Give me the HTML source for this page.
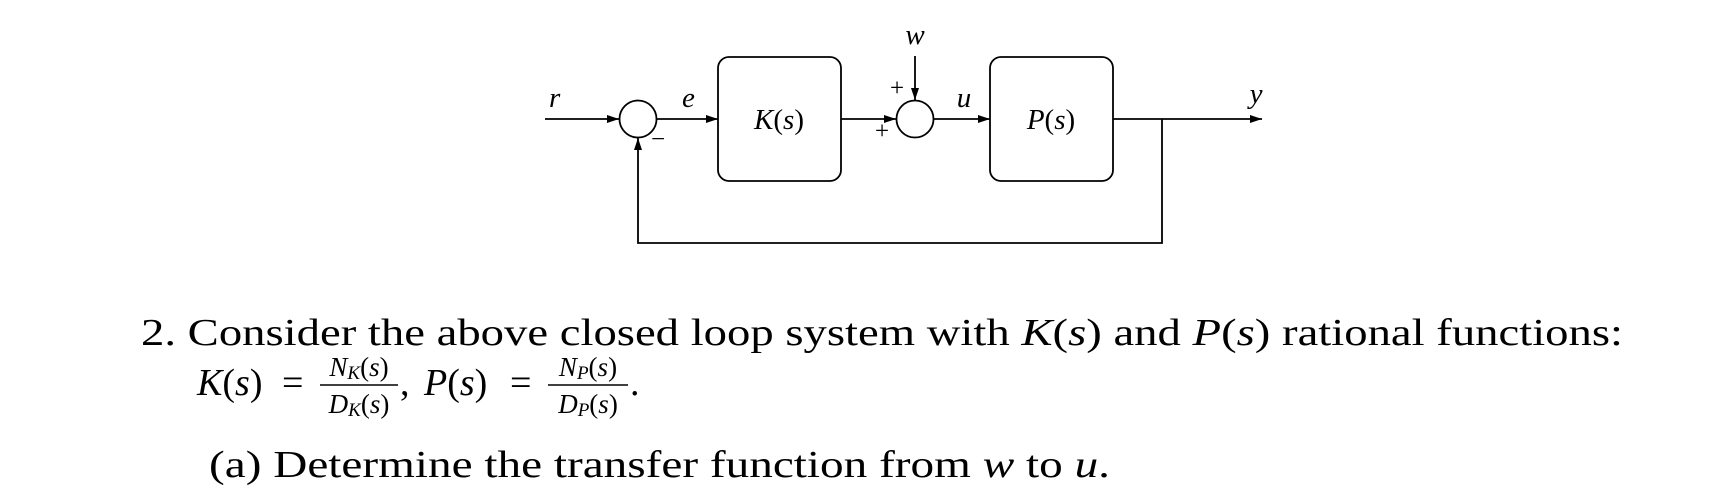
<!DOCTYPE html>
<html><head><meta charset="utf-8"><style>
html,body{margin:0;padding:0;background:#fff;}
svg{display:block;}
text{font-family:"Liberation Serif",serif;fill:#000;}
.i{font-style:italic;}
</style></head><body>
<svg width="1716" height="502" viewBox="0 0 1716 502" xmlns="http://www.w3.org/2000/svg">
<defs><marker id="a" markerWidth="12" markerHeight="8" refX="12" refY="4" orient="auto" markerUnits="userSpaceOnUse"><path d="M0,0 L12,4 L0,8 Z" fill="#000"/></marker></defs>
<g stroke="#000" stroke-width="1.8" fill="none">
<line x1="545" y1="119" x2="619" y2="119" marker-end="url(#a)"/>
<circle cx="638" cy="119" r="18.5"/>
<line x1="656.5" y1="119" x2="718" y2="119" marker-end="url(#a)"/>
<rect x="718" y="57" width="123" height="124" rx="11"/>
<line x1="841" y1="119" x2="896" y2="119" marker-end="url(#a)"/>
<line x1="915" y1="56" x2="915" y2="100" marker-end="url(#a)"/>
<circle cx="915" cy="119" r="18.5"/>
<line x1="933.5" y1="119" x2="990" y2="119" marker-end="url(#a)"/>
<rect x="990" y="57" width="123" height="124" rx="11"/>
<line x1="1113" y1="119" x2="1262" y2="119" marker-end="url(#a)"/>
<polyline points="1162,119 1162,243 638,243 638,138" marker-end="url(#a)"/>
</g>
<text class="i" x="549" y="107" font-size="29">r</text>
<text class="i" x="682" y="107" font-size="29">e</text>
<text x="779" y="129" font-size="29" text-anchor="middle"><tspan class="i">K</tspan>(<tspan class="i">s</tspan>)</text>
<text class="i" x="915" y="44" font-size="29" text-anchor="middle">w</text>
<text x="897" y="96" font-size="25" text-anchor="middle">+</text>
<text x="882" y="139" font-size="25" text-anchor="middle">+</text>
<text x="658" y="147" font-size="25" text-anchor="middle">−</text>
<text class="i" x="964" y="107" font-size="29" text-anchor="middle">u</text>
<text x="1051" y="129" font-size="29" text-anchor="middle"><tspan class="i">P</tspan>(<tspan class="i">s</tspan>)</text>
<text class="i" x="1256" y="103" font-size="29" text-anchor="middle">y</text>

<text x="141" y="345" font-size="38" textLength="1482" lengthAdjust="spacingAndGlyphs">2. Consider the above closed loop system with <tspan class="i">K</tspan>(<tspan class="i">s</tspan>) and <tspan class="i">P</tspan>(<tspan class="i">s</tspan>) rational functions:</text>
<text x="197" y="395" font-size="38"><tspan class="i">K</tspan>(<tspan class="i">s</tspan>)</text>
<text x="282" y="395" font-size="38">=</text>
<text x="359" y="376" font-size="27" text-anchor="middle"><tspan class="i">N<tspan font-size="19" dy="3">K</tspan></tspan><tspan dy="-3">(</tspan><tspan class="i">s</tspan>)</text>
<line x1="320" y1="385" x2="398" y2="385" stroke="#000" stroke-width="1.4"/>
<text x="359" y="413" font-size="27" text-anchor="middle"><tspan class="i">D<tspan font-size="19" dy="3">K</tspan></tspan><tspan dy="-3">(</tspan><tspan class="i">s</tspan>)</text>
<text x="400" y="395" font-size="38">,</text>
<text x="424" y="395" font-size="38"><tspan class="i">P</tspan>(<tspan class="i">s</tspan>)</text>
<text x="510" y="395" font-size="38">=</text>
<text x="588" y="376" font-size="27" text-anchor="middle"><tspan class="i">N<tspan font-size="19" dy="3">P</tspan></tspan><tspan dy="-3">(</tspan><tspan class="i">s</tspan>)</text>
<line x1="548" y1="385" x2="628" y2="385" stroke="#000" stroke-width="1.4"/>
<text x="588" y="413" font-size="27" text-anchor="middle"><tspan class="i">D<tspan font-size="19" dy="3">P</tspan></tspan><tspan dy="-3">(</tspan><tspan class="i">s</tspan>)</text>
<text x="630" y="395" font-size="38">.</text>
<text x="209" y="477" font-size="38" textLength="901" lengthAdjust="spacingAndGlyphs">(a)  Determine the transfer function from <tspan class="i">w</tspan> to <tspan class="i">u</tspan>.</text>
</svg>
</body></html>
